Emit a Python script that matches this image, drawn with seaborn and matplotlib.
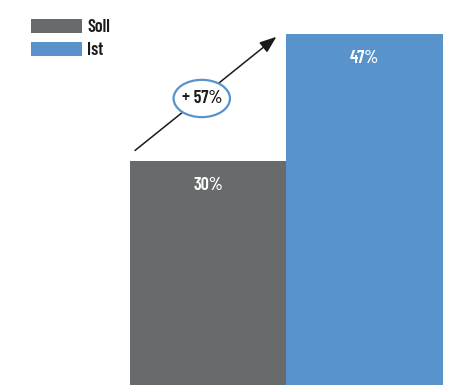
import matplotlib
matplotlib.use("Agg")
import matplotlib.pyplot as plt
import seaborn as sns
import pandas as pd
from matplotlib.patches import Patch, Ellipse

categories = ["Soll", "Ist"]
values = [30, 47]
labels = ["30%", "47%"]
change_label = "+ 57%"
colors = ["#686b6c", "#5893cc"]

sns.set_theme(style="white")
plt.rcParams["font.family"] = ["Barlow Condensed", "Pathway Gothic One", "DejaVu Sans"]
W = 600

df = pd.DataFrame({"cat": categories, "val": values})
fig = plt.figure(figsize=(4.62, 3.85), dpi=100)
ax = fig.add_axes([0, 0, 1, 1])
sns.barplot(data=df, x="cat", y="val", hue="cat", palette=colors, width=1.0,
            ax=ax, legend=False, saturation=1, linewidth=0)
ax.set_xlim(-1.328, 1.621)
ax.set_ylim(0, 51.6)
ax.axis("off")

for i, (v, l) in enumerate(zip(values, labels)):
    ax.text(i, v - 3.2, l, color="white", ha="center", va="center",
            fontsize=13, fontweight=W)

# arrow
ax.annotate("", xy=(0.45, 46.9), xytext=(-0.48, 31.2),
            arrowprops=dict(arrowstyle="-|>,head_length=0.85,head_width=0.32",
                            color="#1a1a1a", lw=1.1))
ell = Ellipse((-0.04, 38.4), width=0.36, height=5.0, facecolor="white",
              edgecolor="#5893cc", lw=1.6, zorder=5)
ax.add_patch(ell)
ax.text(-0.04, 38.4, change_label, ha="center", va="center", fontsize=13,
        fontweight=W, color="#1a1a1a", zorder=6)

handles = [Patch(facecolor=c, edgecolor="none") for c in colors]
leg = fig.legend(handles, categories, loc="upper left",
                 bbox_to_anchor=(0.040, 0.984), frameon=False, fontsize=13,
                 handlelength=2.8, handleheight=0.83, labelspacing=0.3,
                 handletextpad=0.3, borderpad=0.2)
for t in leg.get_texts():
    t.set_color("#1a1a1a")
    t.set_fontweight(W)

fig.savefig("out.png", dpi=100)
